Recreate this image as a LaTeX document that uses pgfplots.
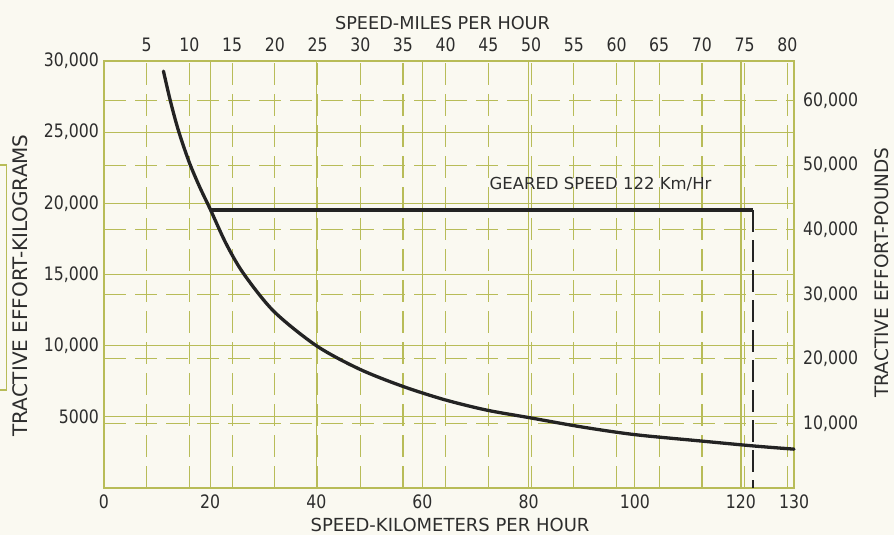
\documentclass[border=0pt]{standalone}
\usepackage{fontspec}
\setmainfont{DejaVu Sans}
\newfontfamily\numfont[FakeStretch=0.85]{DejaVu Sans}
\usepackage{pgfplots}
\pgfplotsset{compat=1.18}
\definecolor{bg}{RGB}{250,249,241}
\definecolor{gridc}{RGB}{184,188,88}
\definecolor{ink}{RGB}{45,45,45}
\definecolor{curvec}{RGB}{35,35,35}
\begin{document}
\begin{tikzpicture}[x=1pt,y=1pt]
\fill[bg] (0,0) rectangle (894,535);
\draw[gridc, line width=1.2pt] (-3,145) rectangle (6.7,370);

% secondary axis: miles per hour / pounds (dashed grid)
\begin{axis}[at={(104pt,47pt)}, anchor=south west, scale only axis,
  width=690pt, height=427pt,
  xmin=0, xmax=80.7783, ymin=0, ymax=66138.7,
  scaled ticks=false,
  axis line style={draw=none},
  xticklabel pos=upper, yticklabel pos=right,
  xtick={5,10,15,20,25,30,35,40,45,50,55,60,65,70,75,80},
  xticklabels={5,10,15,20,25,30,35,40,45,50,55,60,65,70,75,80},
  ytick={10000,20000,30000,40000,50000,60000},
  yticklabels={{10,000},{20,000},{30,000},{40,000},{50,000},{60,000}},
  grid=major,
  major grid style={gridc, line width=1.2pt, dash pattern=on 22pt off 9pt},
  major tick length=0pt,
  ticklabel style={font={\numfont\fontsize{18.5}{20}\selectfont}, text=ink, inner sep=0pt},
  xticklabel style={yshift=9pt},
  yticklabel style={xshift=9pt},
]
\end{axis}

% main axis: kilometers per hour / kilograms
\begin{axis}[at={(104pt,47pt)}, anchor=south west, scale only axis,
  width=690pt, height=427pt,
  xmin=0, xmax=130, ymin=0, ymax=30000,
  scaled ticks=false,
  axis line style={gridc, line width=1.4pt},
  xtick={0,20,40,60,80,100,120,130},
  xticklabels={0,20,40,60,80,100,120,130},
  ytick={5000,10000,15000,20000,25000,30000},
  yticklabels={5000,{10,000},{15,000},{20,000},{25,000},{30,000}},
  grid=major,
  major grid style={gridc, line width=1.2pt},
  major tick length=0pt,
  ticklabel style={font={\numfont\fontsize{18.5}{20}\selectfont}, text=ink, inner sep=0pt},
  xticklabel style={yshift=-7pt},
  yticklabel style={xshift=-5pt},
  clip=false,
]
\addplot[curvec, line width=3.3pt, smooth, line cap=round] coordinates {
 (11.2,29290) (12.5,27200) (14,25140) (16,22940) (18,21170) (20,19600)
 (23,17170) (26.3,15060) (32,12410) (40,10000) (48,8375) (56,7180)
 (64,6220) (72,5480) (80,4950) (90,4290) (100,3750)
 (112.5,3300) (122.5,2950) (130,2730)};
\addplot[curvec, line width=3.2pt] coordinates {(20,19530) (122.3,19530)};
\addplot[curvec, line width=2.6pt, dash pattern=on 22pt off 8pt] coordinates {(122.3,19530) (122.3,0)};
\node[anchor=west, font={\fontsize{16.5}{18}\selectfont}, text=ink, inner sep=0pt]
  at (axis cs:72.6,21360) {GEARED SPEED 122 Km/Hr};
\end{axis}

\node[font={\fontsize{17.7}{20}\selectfont}, text=ink, inner sep=0pt] at (442.5,512) {SPEED-MILES PER HOUR};
\node[font={\fontsize{18}{20}\selectfont}, text=ink, inner sep=0pt] at (450,10) {SPEED-KILOMETERS PER HOUR};
\node[rotate=90, font={\fontsize{20}{22}\selectfont}, text=ink, inner sep=0pt] at (20,249.5) {TRACTIVE EFFORT-KILOGRAMS};
\node[rotate=90, font={\fontsize{18.5}{21}\selectfont}, text=ink, inner sep=0pt] at (882,262.5) {TRACTIVE EFFORT-POUNDS};

\pgfresetboundingbox
\path (0,0) rectangle (894,535);
\end{tikzpicture}
\end{document}
